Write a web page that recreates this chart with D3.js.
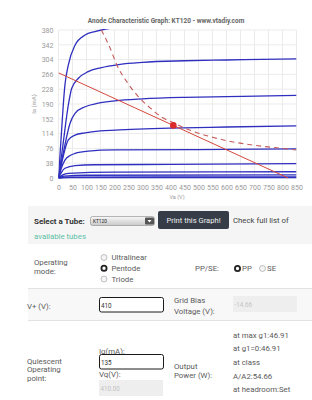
<!DOCTYPE html>
<html>
<head>
<meta charset="utf-8">
<script src="https://cdn.jsdelivr.net/npm/d3@7"></script>
<style>
  body { margin: 0; background: #fff; }
  svg text { font-family: Roboto, "Liberation Sans", sans-serif; }
</style>
</head>
<body>
<div id="graph"></div>
<script>
// anode curves, [Va (V), Ia (mA)], top to bottom
var curve1 = [[0,0],[10,110],[17,187],[23,239],[35,290],[59,341],[95,367],[130,376],[166,382],[250,390],[850,410]];
var curve2 = [[0,0],[15,80],[35,187],[47,230],[71,256],[106,273],[150,283],[220,292],[300,297],[450,301],[600,303],[850,306]];
var curve3 = [[0,0],[20,75],[41,140],[59,166],[95,183],[142,192],[202,198],[300,203],[450,207],[600,209],[850,212]];
var curve4 = [[0,0],[15,50],[35,98],[59,110],[95,116],[150,121],[202,123],[400,128],[600,131],[850,134]];
var curve5 = [[0,0],[10,25],[23,46],[40,57],[59,63],[106,69],[202,72],[500,73],[850,75]];
var curve6 = [[0,0],[10,14],[23,25],[59,32],[130,34],[400,35],[850,37]];
var curve7 = [[0,0],[15,8],[35,12],[200,15],[850,16]];
var curve8 = [[0,0],[20,5],[100,7],[850,8]];
var curve9 = [[0,0],[30,2],[850,3]];
var curve10 = [[0,0],[40,0.8],[850,1]];
var anodeCurves = [curve1, curve2, curve3, curve4, curve5, curve6, curve7, curve8, curve9, curve10];

// load line and max dissipation curve
var loadLine = [[0,270],[820,0]];
var maxDiss = [[153,380],[184,334],[208,291],[243,248],[279,214],[327,180],[374,154],[410,142],[458,126],[505,114],[553,104],[600,96],[700,84],[800,76],[850,72]];
var opPoint = [410, 135];

var xTicks = d3.range(0, 851, 50);
var yTicks = [0, 38, 76, 114, 152, 190, 228, 266, 304, 342, 380];

var W = 312, H = 400;
var svg = d3.select("#graph").append("svg")
    .attr("width", W)
    .attr("height", H);

var x = d3.scaleLinear().domain([0, 850]).range([58.5, 296.5]);
var y = d3.scaleLinear().domain([0, 380]).range([178, 30]);

svg.append("text")
    .attr("x", 166).attr("y", 23)
    .attr("text-anchor", "middle")
    .attr("font-size", 6.5)
    .attr("font-weight", "bold")
    .attr("fill", "#666")
    .text("Anode Characteristic Graph: KT120 - www.vtadiy.com");

// grid
svg.append("g").selectAll("line").data(xTicks).enter().append("line")
    .attr("x1", function(d) { return x(d); })
    .attr("x2", function(d) { return x(d); })
    .attr("y1", y(0)).attr("y2", y(380))
    .attr("stroke", "#ebebeb");
svg.append("g").selectAll("line").data(yTicks).enter().append("line")
    .attr("x1", x(0)).attr("x2", x(850))
    .attr("y1", function(d) { return y(d); })
    .attr("y2", function(d) { return y(d); })
    .attr("stroke", "#ebebeb");

var xAxis = svg.append("g")
    .attr("transform", "translate(0," + (y(0) + 3) + ")")
    .call(d3.axisBottom(x).tickValues(xTicks).tickSize(0).tickPadding(4));
var yAxis = svg.append("g")
    .attr("transform", "translate(" + (x(0) - 3) + ",0)")
    .call(d3.axisLeft(y).tickValues(yTicks).tickSize(0).tickPadding(2));
[xAxis, yAxis].forEach(function(a) {
    a.select(".domain").remove();
    a.selectAll("text").attr("fill", "#999").attr("font-size", 7)
        .attr("font-family", "Roboto, sans-serif");
});

svg.append("text")
    .attr("x", 177).attr("y", 199)
    .attr("text-anchor", "middle")
    .attr("font-size", 5.5).attr("fill", "#999")
    .text("Va (V)");
svg.append("text")
    .attr("transform", "translate(36,104) rotate(-90)")
    .attr("text-anchor", "middle")
    .attr("font-size", 6).attr("fill", "#999")
    .text("Ia (mA)");

svg.append("clipPath").attr("id", "plotclip")
    .append("rect")
    .attr("x", x(0)).attr("y", y(380) - 1)
    .attr("width", x(850) - x(0)).attr("height", y(0) - y(380) + 2);

var plot = svg.append("g").attr("clip-path", "url(#plotclip)");

var line = d3.line()
    .x(function(d) { return x(d[0]); })
    .y(function(d) { return y(d[1]); })
    .curve(d3.curveMonotoneX);

plot.selectAll(".anode").data(anodeCurves).enter().append("path")
    .attr("class", "anode")
    .attr("d", line)
    .attr("fill", "none")
    .attr("stroke", "#2f2fbf")
    .attr("stroke-width", 1.3);

plot.append("path")
    .attr("d", line(maxDiss))
    .attr("fill", "none")
    .attr("stroke", "#c45a5a")
    .attr("stroke-width", 1.1)
    .attr("stroke-dasharray", "5,4");

plot.append("path")
    .attr("d", d3.line().x(function(d) { return x(d[0]); }).y(function(d) { return y(d[1]); })(loadLine))
    .attr("fill", "none")
    .attr("stroke", "#d4473b")
    .attr("stroke-width", 1);

plot.append("circle")
    .attr("cx", x(opPoint[0])).attr("cy", y(opPoint[1]))
    .attr("r", 3.3)
    .attr("fill", "#dd2a2a");

// form below the graph
var form = svg.append("g");
var fs = 7.8;
function label(tx, ty, s, col) {
    return form.append("text").attr("x", tx).attr("y", ty)
        .attr("font-size", fs).attr("fill", col || "#5a5a5a").text(s);
}

form.append("rect").attr("x", 28).attr("y", 206).attr("width", 284).attr("height", 38).attr("fill", "#f5f5f5");
label(34, 224, "Select a Tube:", "#333").attr("font-weight", "bold").attr("font-size", 8);

var grad = svg.append("defs").append("linearGradient").attr("id", "selgrad")
    .attr("x1", 0).attr("y1", 0).attr("x2", 0).attr("y2", 1);
grad.append("stop").attr("offset", "0%").attr("stop-color", "#f8f8f8");
grad.append("stop").attr("offset", "100%").attr("stop-color", "#c8c8c8");
form.append("rect").attr("x", 90.5).attr("y", 216.5).attr("width", 64).attr("height", 9).attr("rx", 2)
    .attr("fill", "url(#selgrad)").attr("stroke", "#888").attr("stroke-width", 0.6);
form.append("text").attr("x", 93).attr("y", 223).attr("font-size", 4.8).attr("fill", "#222").text("KT120");
form.append("rect").attr("x", 145).attr("y", 217.5).attr("width", 9).attr("height", 7).attr("rx", 1).attr("fill", "#555");
form.append("path").attr("d", "M147.5,220 L151.5,220 L149.5,222.5 Z").attr("fill", "#fff");

form.append("rect").attr("x", 158).attr("y", 211).attr("width", 71).attr("height", 18).attr("rx", 2).attr("fill", "#373d48");
form.append("text").attr("x", 193.5).attr("y", 222.5).attr("text-anchor", "middle")
    .attr("font-size", 7.6).attr("fill", "#eee")
    .attr("font-family", "'DejaVu Serif', 'Liberation Serif', serif")
    .text("Print this Graph!");
label(233, 223, "Check full list of", "#444");
label(34, 238.5, "available tubes", "#5cc0a6");

// operating mode row
label(34, 265, "Operating");
label(34, 273.5, "mode:");
var modes = ["Ultralinear", "Pentode", "Triode"];
var modeY = [257.5, 268.3, 279];
modes.forEach(function(m, i) {
    radio(104, modeY[i], m === "Pentode");
    label(111.5, modeY[i] + 2.7, m);
});
label(195, 271, "PP/SE:");
radio(237.5, 268.5, true);
label(242, 271.2, "PP");
radio(262.5, 268.5, false);
label(267, 271.2, "SE");

function radio(cx, cy, on) {
    if (on) {
        form.append("circle").attr("cx", cx).attr("cy", cy).attr("r", 2.6)
            .attr("fill", "#fff").attr("stroke", "#222").attr("stroke-width", 1.8);
    } else {
        form.append("circle").attr("cx", cx).attr("cy", cy).attr("r", 3)
            .attr("fill", "#f4f4f4").attr("stroke", "#999").attr("stroke-width", 0.6);
    }
}

form.append("line").attr("x1", 28).attr("x2", 312).attr("y1", 288.5).attr("y2", 288.5).attr("stroke", "#e2e2e2");
form.append("rect").attr("x", 28).attr("y", 289).attr("width", 284).attr("height", 31).attr("fill", "#f8f8f8");
form.append("line").attr("x1", 28).attr("x2", 312).attr("y1", 320.5).attr("y2", 320.5).attr("stroke", "#e2e2e2");

function input(ix, iy, val, enabled) {
    form.append("rect").attr("x", ix).attr("y", iy).attr("width", 64).attr("height", enabled ? 14.5 : 16)
        .attr("rx", enabled ? 2 : 0)
        .attr("fill", enabled ? "#fff" : "#eeeeee")
        .attr("stroke", enabled ? "#1a1a1a" : "none").attr("stroke-width", 1);
    form.append("text").attr("x", ix + 1.5).attr("y", iy + (enabled ? 10 : 11))
        .attr("font-size", 6.3).attr("fill", enabled ? "#333" : "#c4c4c4").text(val);
}

// V+ row
label(27, 308.5, "V+ (V):");
input(99.5, 297.5, "410", true);
label(174, 303, "Grid Bias");
label(174, 313.5, "Voltage (V):");
input(233, 296, "-14.66", false);

// quiescent row
label(27, 363.5, "Quiescent");
label(27, 372, "Operating");
label(27, 380.5, "point:");
label(99, 353.5, "Iq(mA):");
input(99.5, 354.5, "135", true);
label(99, 377, "Vq(V):");
input(99, 380, "410.00", false);
label(174, 368.5, "Output");
label(174, 377.5, "Power (W):");
label(233, 337.5, "at max g1:46.91");
label(233, 351, "at g1=0:46.91");
label(233, 365, "at class");
label(233, 379, "A/A2:54.66");
label(233, 392, "at headroom:Set");
</script>
</body>
</html>
